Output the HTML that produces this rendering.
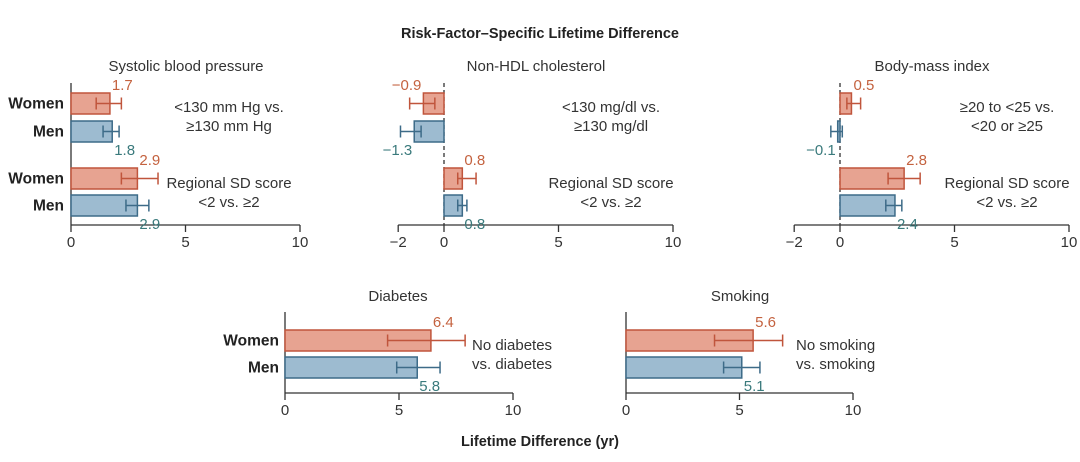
<!DOCTYPE html>
<html><head><meta charset="utf-8"><style>
body{margin:0;background:#fff;width:1080px;height:457px;overflow:hidden;font-family:"Liberation Sans",sans-serif}
svg text{font-family:"Liberation Sans",sans-serif}
</style></head><body>
<svg id="chart" width="1080" height="457" xmlns="http://www.w3.org/2000/svg">
<text x="540" y="38" text-anchor="middle" font-size="14.5" font-weight="bold" fill="#222">Risk-Factor–Specific Lifetime Difference</text>
<text x="540" y="446" text-anchor="middle" font-size="14.5" font-weight="bold" fill="#222">Lifetime Difference (yr)</text>
</svg>
<script>
const panelNames=["Systolic blood pressure","Non-HDL cholesterol","Body-mass index","Diabetes","Smoking"];
const sbpValues=[1.7,1.8,2.9,2.9];
const sbpLow=[1.1,1.4,2.2,2.4];
const sbpHigh=[2.2,2.1,3.8,3.4];
const hdlValues=[-0.9,-1.3,0.8,0.8];
const hdlLow=[-1.5,-1.9,0.6,0.6];
const hdlHigh=[-0.4,-1.0,1.4,1.0];
const bmiValues=[0.5,-0.1,2.8,2.4];
const bmiLow=[0.3,-0.4,2.1,2.0];
const bmiHigh=[0.9,0.1,3.5,2.7];
const diaValues=[6.4,5.8];
const diaLow=[4.5,4.9];
const diaHigh=[7.9,6.8];
const smkValues=[5.6,5.1];
const smkLow=[3.9,4.3];
const smkHigh=[6.9,5.9];
const groupLabels=["Women","Men","Women","Men"];
const sbpNotes=[["<130 mm Hg vs.","≥130 mm Hg"],["Regional SD score","<2 vs. ≥2"]];
const hdlNotes=[["<130 mg/dl vs.","≥130 mg/dl"],["Regional SD score","<2 vs. ≥2"]];
const bmiNotes=[["≥20 to <25 vs.","<20 or ≥25"],["Regional SD score","<2 vs. ≥2"]];
const diaNotes=[["No diabetes","vs. diabetes"]];
const smkNotes=[["No smoking","vs. smoking"]];
const ticksPos=[0,5,10];
const ticksNeg=[-2,0,5,10];

const svg=document.getElementById('chart');
const NS="http://www.w3.org/2000/svg";
const FS=15;
function mk(tag,attrs,parent){const e=document.createElementNS(NS,tag);for(const k in attrs)e.setAttribute(k,attrs[k]);(parent||svg).appendChild(e);return e;}
const WF="#e7a391",WS="#c0553c",WT="#c4623f",MF="#9dbbd0",MS="#3d6b88",MT="#3a7a7c";

function panel(o){
  const g=mk('g',{});
  
  
  const x=v=>o.x0+(v)*(o.x10-o.x0)/10;
  const xmin=o.ticks[0];
  const t=mk('text',{x:o.titleX,y:o.titleY,'text-anchor':'middle','font-size':FS,fill:'#333'},g);
  t.textContent=o.title;
  
  
  const ax=mk('line',{x1:x(xmin),x2:x(10),y1:o.axisY,y2:o.axisY,stroke:'#333','stroke-width':1.3},g);
  
  
  o.ticks.forEach(tv=>{
    mk('line',{x1:x(tv),x2:x(tv),y1:o.axisY,y2:o.axisY+7,stroke:'#333','stroke-width':1.3},g);
    const tl=mk('text',{x:x(tv),y:o.axisY+22,'text-anchor':'middle','font-size':FS,fill:'#333'},g);
    tl.textContent=tv<0?'−'+Math.abs(tv):tv;
    
    
  });
  if(xmin<0){
    const d=mk('line',{x1:x(0),x2:x(0),y1:o.topY,y2:o.axisY,stroke:'#333','stroke-width':1.3,'stroke-dasharray':'4,3'},g);
    
    
  } else {
    const d=mk('line',{x1:x(0),x2:x(0),y1:o.topY,y2:o.axisY,stroke:'#333','stroke-width':1.3},g);
    
    
  }
  o.values.forEach((v,i)=>{
    const women=i%2===0;
    const y=o.barY[i], h=o.barH;
    const x1=Math.min(x(0),x(v)), w=Math.abs(x(v)-x(0));
    const r=mk('rect',{x:x1,y:y,width:w,height:h,fill:women?WF:MF,stroke:women?WS:MS,'stroke-width':1.5},g);
    
    
    const cy=y+h/2, col=women?WS:MS;
    const eb=mk('path',{d:`M${x(o.low[i])},${cy}H${x(o.high[i])}M${x(o.low[i])},${cy-6}V${cy+6}M${x(o.high[i])},${cy-6}V${cy+6}`,stroke:col,'stroke-width':1.5,fill:'none'},g);
    
    
    const lx=v>=0?x(v)+2:x(v)-2;
    const vl=mk('text',{x:lx,y:women?y-3:y+h+13,'text-anchor':v>=0?'start':'end','font-size':FS,fill:women?WT:MT},g);
    vl.textContent=v<0?'−'+Math.abs(v):v.toFixed(1);
    
    
    if(o.showGroups){
      const gl=mk('text',{x:o.groupX,y:cy+5,'text-anchor':'end','font-size':15.5,'font-weight':'bold',fill:'#222'},g);
      gl.textContent=groupLabels[i];
      
      
    }
  });
  o.notes.forEach((n,j)=>{
    n.forEach((line,k)=>{
      const nt=mk('text',{x:o.noteX,y:o.noteY[j]+k*19,'text-anchor':o.noteAnchor,'font-size':FS,fill:'#333'},g);
      nt.textContent=line;
      
      
    });
  });
}
const topBars=[93,121,168,195];
panel({id:'sbp',title:panelNames[0],titleX:186,titleY:71,x0:71,x10:300,axisY:225,topY:83,ticks:ticksPos,values:sbpValues,low:sbpLow,high:sbpHigh,barY:topBars,barH:21,showGroups:true,groupX:64,notes:sbpNotes,noteX:229,noteY:[112,188],noteAnchor:'middle'});
panel({id:'hdl',title:panelNames[1],titleX:536,titleY:71,x0:444,x10:673,axisY:225,topY:83,ticks:ticksNeg,values:hdlValues,low:hdlLow,high:hdlHigh,barY:topBars,barH:21,showGroups:false,notes:hdlNotes,noteX:611,noteY:[112,188],noteAnchor:'middle'});
panel({id:'bmi',title:panelNames[2],titleX:932,titleY:71,x0:840,x10:1069,axisY:225,topY:83,ticks:ticksNeg,values:bmiValues,low:bmiLow,high:bmiHigh,barY:topBars,barH:21,showGroups:false,notes:bmiNotes,noteX:1007,noteY:[112,188],noteAnchor:'middle'});
panel({id:'diabetes',title:panelNames[3],titleX:398,titleY:301,x0:285,x10:513,axisY:393,topY:312,ticks:ticksPos,values:diaValues,low:diaLow,high:diaHigh,barY:[330,357],barH:21,showGroups:true,groupX:279,notes:diaNotes,noteX:472,noteY:[350],noteAnchor:'start'});
panel({id:'smoking',title:panelNames[4],titleX:740,titleY:301,x0:626,x10:853,axisY:393,topY:312,ticks:ticksPos,values:smkValues,low:smkLow,high:smkHigh,barY:[330,357],barH:21,showGroups:false,notes:smkNotes,noteX:796,noteY:[350],noteAnchor:'start'});
</script>
</body></html>
